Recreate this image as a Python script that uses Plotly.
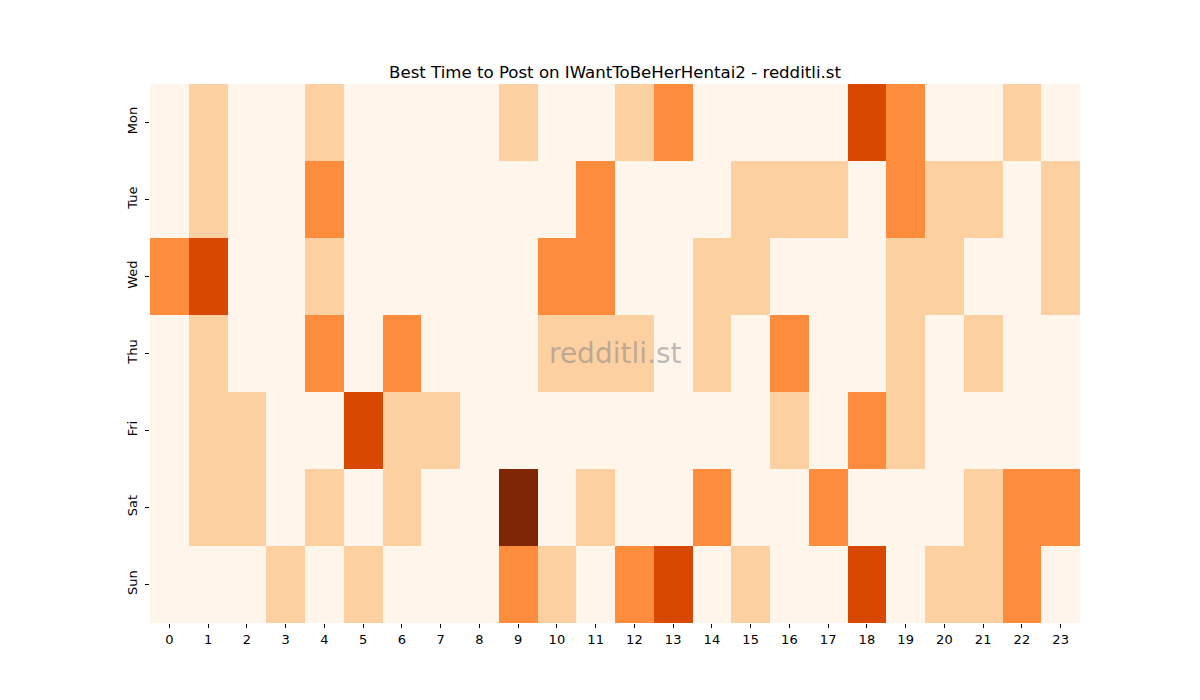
import plotly.graph_objects as go

days = ["Mon", "Tue", "Wed", "Thu", "Fri", "Sat", "Sun"]
hours = list(range(24))

mon = [0,1,0,0,1,0,0,0,0,1,0,0,1,2,0,0,0,0,3,2,0,0,1,0]
tue = [0,1,0,0,2,0,0,0,0,0,0,2,0,0,0,1,1,1,0,2,1,1,0,1]
wed = [2,3,0,0,1,0,0,0,0,0,2,2,0,0,1,1,0,0,0,1,1,0,0,1]
thu = [0,1,0,0,2,0,2,0,0,0,1,1,1,0,1,0,2,0,0,1,0,1,0,0]
fri = [0,1,1,0,0,3,1,1,0,0,0,0,0,0,0,0,1,0,2,1,0,0,0,0]
sat = [0,1,1,0,1,0,1,0,0,4,0,1,0,0,2,0,0,2,0,0,0,1,2,2]
sun = [0,0,0,1,0,1,0,0,0,2,1,0,2,3,0,1,0,0,3,0,1,1,2,0]

z = [mon, tue, wed, thu, fri, sat, sun]

colorscale = [
    [0.0, "#fff5eb"],
    [0.25, "#fdd0a2"],
    [0.5, "#fd8d3c"],
    [0.75, "#d94801"],
    [1.0, "#7f2704"],
]

fig = go.Figure(go.Heatmap(
    z=z, x=hours, y=days, colorscale=colorscale, zmin=0, zmax=4,
    showscale=False, xgap=0, ygap=0,
))

font = "DejaVu Sans"
fig.update_layout(
    width=1200, height=700,
    margin=dict(l=142, r=128, t=76, b=85),
    paper_bgcolor="white", plot_bgcolor="white",
    font=dict(family=font, size=13, color="black"),
    title=dict(text="Best Time to Post on IWantToBeHerHentai2 - redditli.st",
               x=0.5, xref="paper", xanchor="center", y=1, yref="paper",
               yanchor="bottom", pad=dict(b=6),
               font=dict(size=16.6, family=font, color="black")),
    xaxis=dict(tickmode="array", tickvals=hours, ticktext=[str(h) for h in hours],
               ticks="outside", ticklen=4, tickcolor="black", showgrid=False,
               zeroline=False, showline=False, tickfont=dict(size=13)),
    yaxis=dict(autorange="reversed", ticks="outside", ticklen=4, tickcolor="black",
               tickangle=-90, showgrid=False, zeroline=False, showline=False,
               ticklabelstandoff=3, tickfont=dict(size=13)),
    annotations=[dict(text="redditli.st", x=0.5, y=0.5, xref="paper", yref="paper",
                      showarrow=False, font=dict(size=28, family=font,
                                                 color="rgba(128,128,128,0.5)"))],
)

fig.write_html("out.html")
